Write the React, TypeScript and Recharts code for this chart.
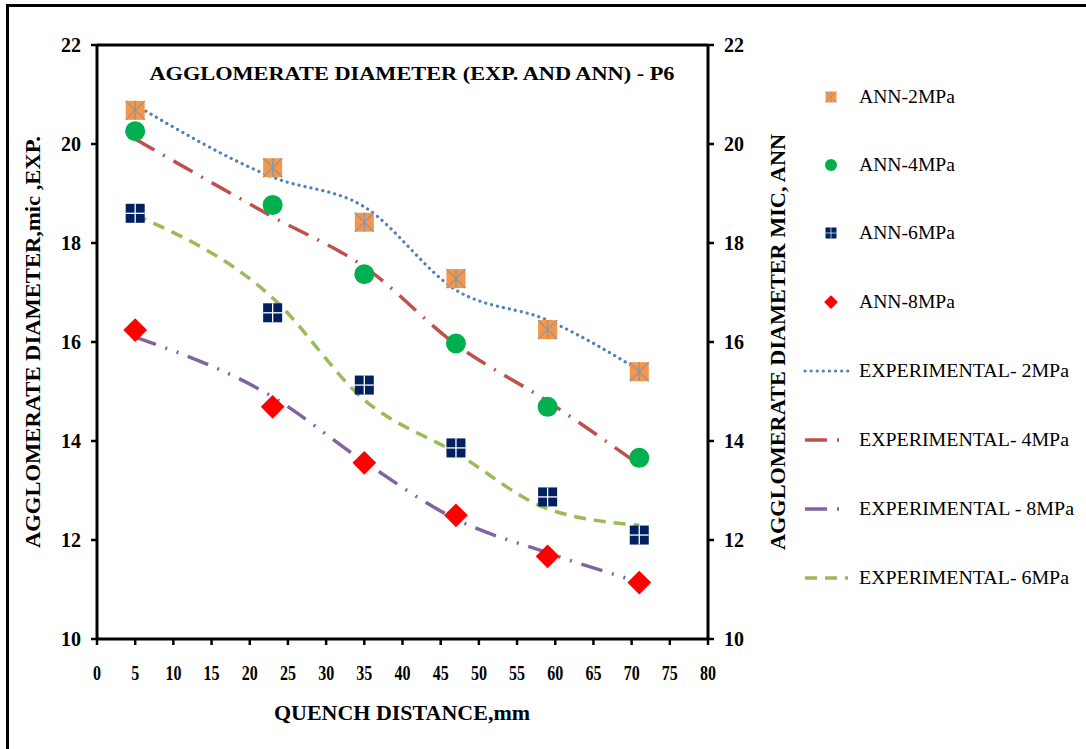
import React from "react";
import {
  ComposedChart,
  Line,
  XAxis,
  YAxis,
  ReferenceLine,
} from "recharts";

const distance = [5, 23, 35, 47, 59, 71];

const ann2 = [20.68, 19.52, 18.42, 17.28, 16.25, 15.4];
const ann4 = [20.26, 18.77, 17.37, 15.97, 14.69, 13.66];
const ann6 = [18.6, 16.59, 15.13, 13.86, 12.87, 12.1];
const ann8 = [16.24, 14.69, 13.56, 12.5, 11.67, 11.14];

const exp2 = [20.79, 19.33, 18.73, 17.05, 16.44, 15.43];
const exp4 = [20.1, 18.53, 17.52, 15.95, 14.8, 13.52];
const exp6 = [18.57, 16.89, 14.83, 13.76, 12.63, 12.3];
const exp8 = [16.1, 14.89, 13.58, 12.42, 11.74, 11.15];

const xTicks = [0, 5, 10, 15, 20, 25, 30, 35, 40, 45, 50, 55, 60, 65, 70, 75, 80];
const yTicks = [10, 12, 14, 16, 18, 20, 22];

const data = distance.map((d, i) => ({
  d,
  ann2: ann2[i],
  ann4: ann4[i],
  ann6: ann6[i],
  ann8: ann8[i],
  exp2: exp2[i],
  exp4: exp4[i],
  exp6: exp6[i],
  exp8: exp8[i],
}));

const FONT = "'Liberation Serif', 'Times New Roman', serif";

type Kind = "ann2" | "ann4" | "ann6" | "ann8";

function Marker({ kind, cx, cy, s = 9.5 }: { kind: Kind; cx: number; cy: number; s?: number }) {
  if (cx == null || cy == null) return null;
  const lw = s < 7 ? 0.7 : 1.3;
  if (kind === "ann2") {
    return (
      <g>
        <rect x={cx - s} y={cy - s} width={2 * s} height={2 * s} fill="#F79646" />
        <line x1={cx - s} y1={cy - s} x2={cx + s} y2={cy + s} stroke="#8a97a8" strokeWidth={lw} />
        <line x1={cx - s} y1={cy + s} x2={cx + s} y2={cy - s} stroke="#8a97a8" strokeWidth={lw} />
        <line x1={cx} y1={cy - s} x2={cx} y2={cy + s} stroke="#8a97a8" strokeWidth={lw} />
      </g>
    );
  }
  if (kind === "ann4") {
    return <circle cx={cx} cy={cy} r={s + 0.5} fill="#00B050" />;
  }
  if (kind === "ann6") {
    return (
      <g>
        <rect x={cx - s} y={cy - s} width={2 * s} height={2 * s} fill="#002060" />
        <line x1={cx - s} y1={cy} x2={cx + s} y2={cy} stroke="#ffffff" strokeWidth={lw} />
        <line x1={cx} y1={cy - s} x2={cx} y2={cy + s} stroke="#ffffff" strokeWidth={lw} />
      </g>
    );
  }
  const r = s * 1.25;
  return (
    <polygon
      points={`${cx},${cy - r} ${cx + r},${cy} ${cx},${cy + r} ${cx - r},${cy}`}
      fill="#FF0000"
    />
  );
}

const annSeries: { key: Kind; name: string }[] = [
  { key: "ann2", name: "ANN-2MPa" },
  { key: "ann4", name: "ANN-4MPa" },
  { key: "ann6", name: "ANN-6MPa" },
  { key: "ann8", name: "ANN-8MPa" },
];

const expSeries = [
  { key: "exp2", name: "EXPERIMENTAL- 2MPa", color: "#4F81BD", dash: "0.1 6", cap: "round" as const, w: 3.2 },
  { key: "exp4", name: "EXPERIMENTAL- 4MPa", color: "#C0504D", dash: "22 10 2 10", cap: "butt" as const, w: 3.5 },
  { key: "exp8", name: "EXPERIMENTAL - 8MPa", color: "#8064A2", dash: "22 10 2 10 2 10", cap: "butt" as const, w: 3.5 },
  { key: "exp6", name: "EXPERIMENTAL- 6MPa", color: "#9BBB59", dash: "12 8", cap: "butt" as const, w: 3.5 },
];

const legendRows = [97, 165, 233, 302, 371, 440, 509, 578];

function XTick(props: any) {
  const { x, y, payload } = props;
  const label = String(payload.value);
  return (
    <text
      x={x}
      y={y}
      dy={33}
      textAnchor="middle"
      fontFamily={FONT}
      fontWeight="bold"
      fontSize={21}
      fill="#000"
      textLength={label.length * 8}
      lengthAdjust="spacingAndGlyphs"
    >
      {label}
    </text>
  );
}

function YTickLeft(props: any) {
  const { x, y, payload } = props;
  return (
    <text x={x - 8} y={y} dy={7} textAnchor="end" fontFamily={FONT} fontWeight="bold" fontSize={20} fill="#000">
      {payload.value}
    </text>
  );
}

function YTickRight(props: any) {
  const { x, y, payload } = props;
  return (
    <text x={x + 8} y={y} dy={7} textAnchor="start" fontFamily={FONT} fontWeight="bold" fontSize={20} fill="#000">
      {payload.value}
    </text>
  );
}

export default function App() {
  return (
    <div style={{ position: "fixed", left: 0, top: 0, width: 1086, height: 749, overflow: "hidden", background: "#fff" }}>
      <div style={{ position: "absolute", left: 0, top: 0 }}>
        <ComposedChart
          width={1086}
          height={749}
          data={data}
          margin={{ top: 45, right: 328, bottom: 70, left: 47 }}
        >
          <XAxis
            dataKey="d"
            type="number"
            domain={[0, 80]}
            ticks={xTicks}
            interval={0}
            axisLine={{ stroke: "#000", strokeWidth: 3 }}
            tickLine={{ stroke: "#000", strokeWidth: 2.5 }}
            tickSize={6}
            height={40}
            tick={<XTick />}
          />
          <YAxis
            yAxisId="left"
            domain={[10, 22]}
            ticks={yTicks}
            interval={0}
            width={50}
            axisLine={{ stroke: "#000", strokeWidth: 3 }}
            tickLine={{ stroke: "#000", strokeWidth: 2.5 }}
            tickSize={6}
            tick={<YTickLeft />}
          />
          <YAxis
            yAxisId="right"
            orientation="right"
            domain={[10, 22]}
            ticks={yTicks}
            interval={0}
            width={50}
            axisLine={{ stroke: "#000", strokeWidth: 3 }}
            tickLine={{ stroke: "#000", strokeWidth: 2.5 }}
            tickSize={6}
            tick={<YTickRight />}
          />
          <ReferenceLine yAxisId="left" y={22} stroke="#000" strokeWidth={3} />
          {annSeries.map((s) => (
            <Line
              key={s.key}
              yAxisId="right"
              dataKey={s.key}
              name={s.name}
              stroke="none"
              isAnimationActive={false}
              activeDot={false}
              dot={(p: any) => <Marker key={`${s.key}-${p.index}`} kind={s.key} cx={p.cx} cy={p.cy} />}
            />
          ))}
          {expSeries.map((s) => (
            <Line
              key={s.key}
              yAxisId="left"
              type="monotone"
              dataKey={s.key}
              name={s.name}
              stroke={s.color}
              strokeWidth={s.w}
              strokeDasharray={s.dash}
              strokeLinecap={s.cap}
              dot={false}
              activeDot={false}
              isAnimationActive={false}
            />
          ))}
        </ComposedChart>
      </div>
      <svg
        width={1086}
        height={749}
        style={{ position: "absolute", left: 0, top: 0, pointerEvents: "none" }}
      >
        {/* outer frame: only left and top edges fall inside the picture */}
        <rect x={6} y={4} width={1100} height={3} fill="#000" />
        <rect x={6} y={4} width={3} height={760} fill="#000" />
        <text
          x={412}
          y={80}
          textAnchor="middle"
          fontFamily={FONT}
          fontWeight="bold"
          fontSize={19}
          textLength={525}
          lengthAdjust="spacingAndGlyphs"
        >
          AGGLOMERATE DIAMETER (EXP. AND ANN) - P6
        </text>
        <text
          x={402}
          y={720}
          textAnchor="middle"
          fontFamily={FONT}
          fontWeight="bold"
          fontSize={20}
          textLength={256}
          lengthAdjust="spacingAndGlyphs"
        >
          QUENCH DISTANCE,mm
        </text>
        <text
          transform="translate(40, 342) rotate(-90)"
          textAnchor="middle"
          fontFamily={FONT}
          fontWeight="bold"
          fontSize={20}
          textLength={412}
          lengthAdjust="spacingAndGlyphs"
        >
          AGGLOMERATE DIAMETER,mic ,EXP.
        </text>
        <text
          transform="translate(785, 342) rotate(-90)"
          textAnchor="middle"
          fontFamily={FONT}
          fontWeight="bold"
          fontSize={20}
          textLength={416}
          lengthAdjust="spacingAndGlyphs"
        >
          AGGLOMERATE DIAMETER MIC, ANN
        </text>
        {annSeries.map((s, i) => (
          <g key={s.key}>
            <Marker kind={s.key} cx={831} cy={legendRows[i]} s={5.5} />
            <text x={859} y={legendRows[i] + 6} fontFamily={FONT} fontSize={19} textLength={96} lengthAdjust="spacingAndGlyphs">
              {s.name}
            </text>
          </g>
        ))}
        {expSeries.map((s, i) => (
          <g key={s.key}>
            <line
              x1={805}
              x2={848}
              y1={legendRows[i + 4]}
              y2={legendRows[i + 4]}
              stroke={s.color}
              strokeWidth={s.w}
              strokeDasharray={s.dash}
              strokeLinecap={s.cap}
            />
            <text
              x={859}
              y={legendRows[i + 4] + 6}
              fontFamily={FONT}
              fontSize={19}
              textLength={s.key === "exp8" ? 215 : 210}
              lengthAdjust="spacingAndGlyphs"
            >
              {s.name}
            </text>
          </g>
        ))}
      </svg>
    </div>
  );
}
